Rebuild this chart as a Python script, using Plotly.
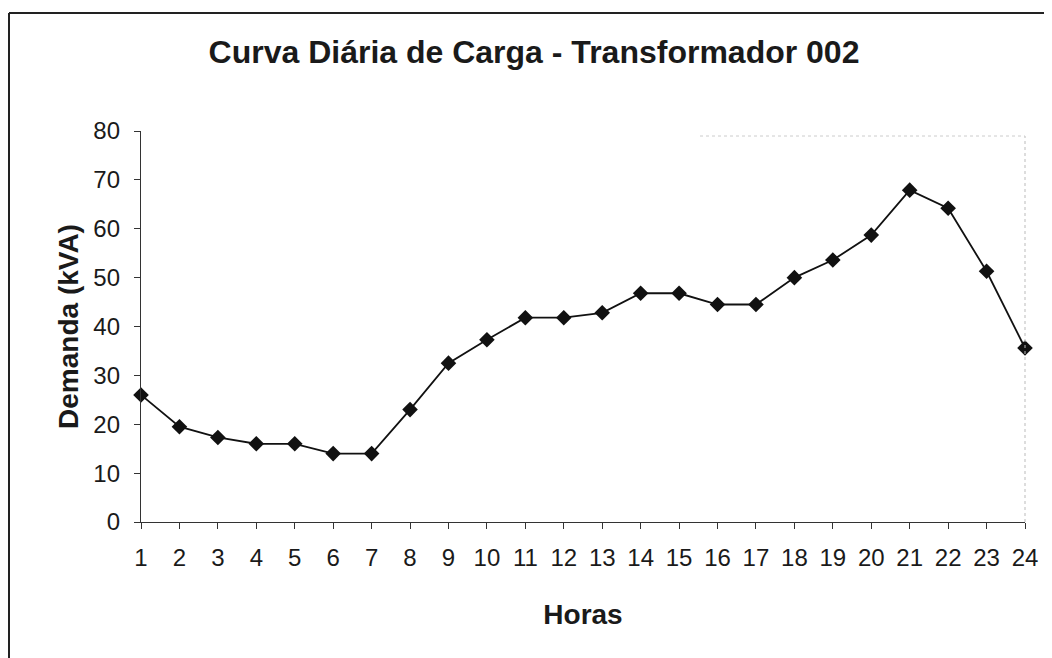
import plotly.graph_objects as go

horas = list(range(1, 25))
demanda = [26, 19.5, 17.3, 16, 16, 14, 14, 23, 32.5, 37.3, 41.8, 41.8, 42.8, 46.8, 46.8,
           44.5, 44.5, 50, 53.6, 58.7, 67.9, 64.2, 51.3, 35.6]

fig = go.Figure()
fig.add_trace(go.Scatter(
    x=horas,
    y=demanda,
    mode='lines+markers',
    line=dict(color='#111111', width=1.8),
    marker=dict(symbol='diamond', size=12, color='#111111'),
    cliponaxis=False,
    showlegend=False,
))

axis_font = dict(family='Arial', size=24, color='#1a1a1a')
title_font = dict(family='Arial', size=28, color='#1a1a1a')

# a pagina tem margem de 8px no body, por isso l/t descontam 8
fig.update_layout(
    width=1052,
    height=658,
    title=dict(text='<b>Curva Diária de Carga - Transformador 002</b>',
               x=0.5, xanchor='center', y=0.933, yanchor='middle',
               font=dict(family='Arial', size=32, color='#1a1a1a')),
    margin=dict(l=133, r=35, t=123, b=144),
    paper_bgcolor='white',
    plot_bgcolor='white',
    xaxis=dict(
        range=[1, 24],
        tickmode='linear', dtick=1,
        showgrid=False, zeroline=False,
        showline=True, linecolor='#333333', linewidth=1.3,
        ticks='outside', ticklen=6, tickcolor='#333333',
        tickfont=axis_font, ticklabelstandoff=8,
        title=dict(text='<b>Horas</b>', font=title_font, standoff=34),
    ),
    yaxis=dict(
        range=[0, 80],
        tickmode='linear', dtick=10,
        showgrid=False, zeroline=False,
        showline=True, linecolor='#333333', linewidth=1.3,
        ticks='outside', ticklen=6, tickcolor='#333333',
        tickfont=axis_font, ticklabelstandoff=9,
        title=dict(text='<b>Demanda (kVA)</b>', font=title_font, standoff=6),
    ),
)

# moldura da folha (esquerda e topo)
x_esq = -132 / 884
y_topo = (514 - 5) / 391
fig.add_shape(type='line', xref='paper', yref='paper',
              x0=x_esq, x1=x_esq, y0=y_topo, y1=-0.5,
              line=dict(color='#222222', width=2))
fig.add_shape(type='line', xref='paper', yref='paper',
              x0=x_esq, x1=1.2, y0=y_topo, y1=y_topo,
              line=dict(color='#222222', width=2))

# borda tenue da area do grafico
fig.add_shape(type='line', xref='paper', yref='paper',
              x0=1, x1=1, y0=0, y1=(522 - 136) / 391,
              line=dict(color='#bbbbbb', width=1, dash='dot'))
fig.add_shape(type='line', xref='paper', yref='paper',
              x0=(700 - 141) / 884, x1=1, y0=(522 - 136) / 391, y1=(522 - 136) / 391,
              line=dict(color='#cccccc', width=1, dash='dot'))

fig.write_html('out.html')
